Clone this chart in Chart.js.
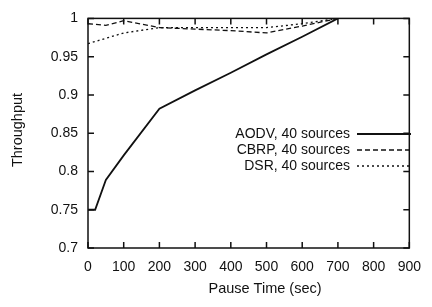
<!DOCTYPE html>
<html><head><meta charset="utf-8">
<script src="https://cdn.jsdelivr.net/npm/chart.js"></script>
<style>html,body{margin:0;padding:0;background:#fff}#wrap{width:432px;height:307px}</style>
</head><body><div id="wrap"><canvas id="c" width="432" height="307"></canvas></div>
<script>
// ---- data ----
const aodvTimes = [0, 20, 50, 100, 200, 300, 400, 500, 600, 700];
const aodvValues = [0.75, 0.75, 0.789, 0.821, 0.882, 0.906, 0.929, 0.953, 0.976, 1.0];
const cbrpTimes = [0, 50, 100, 200, 300, 400, 500, 600, 700];
const cbrpValues = [0.993, 0.991, 0.997, 0.988, 0.986, 0.984, 0.981, 0.99, 1.0];
const dsrTimes = [0, 50, 100, 200, 300, 400, 500, 600, 700];
const dsrValues = [0.967, 0.974, 0.981, 0.988, 0.988, 0.988, 0.988, 0.993, 1.0];
const seriesLabels = ['AODV, 40 sources', 'CBRP, 40 sources', 'DSR, 40 sources'];
const xTickValues = [0, 100, 200, 300, 400, 500, 600, 700, 800, 900];
const xTickLabels = ['0', '100', '200', '300', '400', '500', '600', '700', '800', '900'];
const yTickValues = [0.7, 0.75, 0.8, 0.85, 0.9, 0.95, 1];
const yTickLabels = ['0.7', '0.75', '0.8', '0.85', '0.9', '0.95', '1'];
const xTitle = 'Pause Time (sec)';
const yTitle = 'Throughput';

const FONT = '"Liberation Sans", Arial, Helvetica, sans-serif';
const INK = '#111';

function pts(xs, ys) { return xs.map((x, i) => ({x, y: ys[i]})); }

const decorPlugin = {
  id: 'decor',
  afterDatasetsDraw(chart) {
    const {ctx, chartArea: a, scales: {x, y}} = chart;
    ctx.save();
    ctx.strokeStyle = INK;
    ctx.lineWidth = 1.5;
    ctx.setLineDash([]);
    ctx.strokeRect(a.left, a.top, a.right - a.left, a.bottom - a.top);
    const L = 6;
    ctx.beginPath();
    xTickValues.forEach(v => {
      const p = x.getPixelForValue(v);
      ctx.moveTo(p, a.bottom); ctx.lineTo(p, a.bottom - L);
      ctx.moveTo(p, a.top); ctx.lineTo(p, a.top + L);
    });
    yTickValues.forEach(v => {
      const p = y.getPixelForValue(v);
      ctx.moveTo(a.left, p); ctx.lineTo(a.left + L, p);
      ctx.moveTo(a.right, p); ctx.lineTo(a.right - L, p);
    });
    ctx.stroke();
    // legend
    ctx.font = '14px ' + FONT;
    ctx.fillStyle = INK;
    ctx.textAlign = 'right';
    ctx.textBaseline = 'middle';
    chart.data.datasets.forEach((ds, i) => {
      const yy = 134 + 16 * i;
      ctx.fillText(ds.label, 350, yy);
      ctx.beginPath();
      ctx.lineWidth = ds.borderWidth;
      ctx.setLineDash(ds.borderDash || []);
      ctx.moveTo(357, yy); ctx.lineTo(411, yy);
      ctx.stroke();
    });
    ctx.setLineDash([]);
    // axis titles
    ctx.textAlign = 'center';
    ctx.font = '14.5px ' + FONT;
    ctx.fillText(xTitle, 265, 289);
    ctx.translate(18, 130);
    ctx.rotate(-Math.PI / 2);
    ctx.fillText(yTitle, 0, 0);
    ctx.restore();
  }
};

new Chart(document.getElementById('c'), {
  type: 'line',
  data: {
    datasets: [
      {label: seriesLabels[0], data: pts(aodvTimes, aodvValues), borderColor: INK, borderWidth: 1.8, borderDash: [], pointRadius: 0, tension: 0, fill: false},
      {label: seriesLabels[1], data: pts(cbrpTimes, cbrpValues), borderColor: INK, borderWidth: 1.3, borderDash: [5, 3], pointRadius: 0, tension: 0, fill: false},
      {label: seriesLabels[2], data: pts(dsrTimes, dsrValues), borderColor: INK, borderWidth: 1.3, borderDash: [2, 3], pointRadius: 0, tension: 0, fill: false}
    ]
  },
  options: {
    responsive: false,
    animation: false,
    devicePixelRatio: 1,
    layout: {padding: {top: 12, right: 18, left: 0, bottom: 0}},
    plugins: {legend: {display: false}, tooltip: {enabled: false}},
    scales: {
      x: {
        type: 'linear', min: 0, max: 900,
        afterFit(s) { s.height = 59; },
        afterBuildTicks(s) { s.ticks = xTickValues.map(v => ({value: v})); },
        grid: {display: false, drawTicks: false},
        border: {display: false},
        ticks: {padding: 11, color: INK, font: {family: FONT, size: 14}, maxRotation: 0, autoSkip: false,
          callback: (v) => { const i = xTickValues.indexOf(v); return i >= 0 ? xTickLabels[i] : ''; }}
      },
      y: {
        type: 'linear', min: 0.7, max: 1,
        afterFit(s) { s.width = 88; },
        afterBuildTicks(s) { s.ticks = yTickValues.map(v => ({value: v})); },
        grid: {display: false, drawTicks: false},
        border: {display: false},
        ticks: {padding: 10, color: INK, font: {family: FONT, size: 14}, autoSkip: false,
          callback: (v) => { const i = yTickValues.findIndex(t => Math.abs(t - v) < 1e-9); return i >= 0 ? yTickLabels[i] : ''; }}
      }
    }
  },
  plugins: [decorPlugin]
});
</script>
</body></html>
